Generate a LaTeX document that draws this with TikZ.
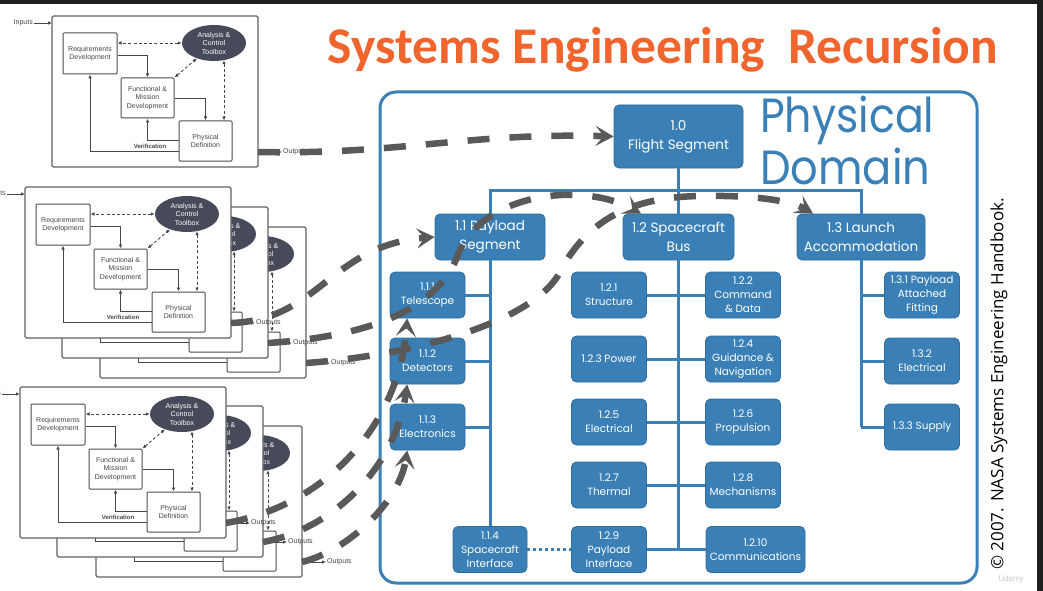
\documentclass[tikz,border=0pt]{standalone}
\usepackage{fontspec}
\usetikzlibrary{arrows.meta,calc,shapes.geometric}
\newfontfamily\titlefont{Carlito}
\newfontfamily\boxfont{Poppins}
\newfontfamily\loopfont{Liberation Sans}
\newfontfamily\notefont{Open Sans}
\definecolor{pdblue}{HTML}{3A80B6}
\definecolor{pdedge}{HTML}{2D6C9E}
\definecolor{recgray}{HTML}{595959}
\definecolor{toolgray}{HTML}{474B59}
\definecolor{orng}{HTML}{F0642D}
\newif\ifloopfront \loopfronttrue
\newcommand\looplabel[1]{\ifloopfront#1\fi}
\tikzset{
  looptxt/.style={font=\loopfont\fontsize{7}{8.5}\selectfont,text=black!72,inner sep=1pt,align=center},
  loopframe/.style={draw=black!62,fill=white,line width=1.1pt,rounded corners=1.5pt,minimum width=206pt,minimum height=151pt},
  loopbox/.style={looptxt,draw=black!70,fill=white,line width=1pt,rounded corners=1pt,minimum width=54pt,minimum height=41pt},
  toolbox/.style={looptxt,ellipse,fill=toolgray,text=white,minimum width=64pt,minimum height=36pt,inner sep=0pt},
  flow/.style={draw=black!72,line width=0.9pt,-{Latex[length=4pt,width=3.5pt]}},
  dashflow/.style={flow,dash pattern=on 3pt off 2.2pt,{Latex[length=4pt,width=3.5pt]}-{Latex[length=4pt,width=3.5pt]}},
  back/.code={\loopfrontfalse},
  pics/seloop/.style={code={
    \node[loopframe] (-fr) at (103,75.5) {};
    \node[looptxt,anchor=east] (-inl) at (-18,7) {\looplabel{Inputs}};
    \coordinate (-in) at (0,7);
    \draw[flow] (-inl.east) -- (-in);
    \node[loopbox] (-req) at (38,37.5) {\looplabel{Requirements\\Development}};
    \node[toolbox] (-tool) at (162,27) {Analysis \&\\Control\\Toolbox};
    \node[loopbox,minimum width=53pt,minimum height=40pt] (-func) at (95.5,82) {\looplabel{Functional \&\\Mission\\Development}};
    \node[loopbox,minimum width=53pt,minimum height=40pt] (-phys) at (153.5,125) {\looplabel{Physical\\Definition}};
    \draw[dashflow] (-tool.west) -- (-tool.west -| -req.east);
    \draw[flow] ([yshift=-1.5pt]-req.east) -| (-func.north);
    \draw[dashflow] (-func.north east) -- (-tool.222);
    \draw[flow] (-func.east) -| (-phys.north);
    \path ($(-tool.south)+(10,-1)$) coordinate (-tv);
    \draw[dashflow] (-tv) -- (-tv |- -phys.north);
    \draw[flow] ([yshift=1pt]-phys.west) -| (-func.south);
    \draw[flow] ([yshift=-10pt]-phys.west) -| (-req.south);
    \node[looptxt,font=\loopfont\bfseries\fontsize{6}{7}\selectfont] (-ver) at (98,130) {\looplabel{Verification}};
    \coordinate (-out) at (206,136);
    \node[looptxt,anchor=west] (-outl) at (230,136) {Outputs};
    \draw[flow] (-out) -- (-outl.west);
  }},
  bigbox/.style={draw=pdedge,fill=pdblue,line width=0.8pt,rounded corners=5pt,text=white,align=center,
    font=\boxfont\fontsize{13.5}{19}\selectfont,minimum height=46pt,inner sep=1pt},
  subbox/.style={bigbox,font=\boxfont\fontsize{10.5}{14}\selectfont,minimum width=75pt},
  tree/.style={pdblue,line width=3pt},
  recur/.style={recgray,line width=6.5pt,dash pattern=on 22pt off 20pt,-{Stealth[length=18pt,width=20pt,inset=8pt]}}
}
\begin{document}
\begin{tikzpicture}[x=1pt,y=-1pt]
\useasboundingbox (0,0) rectangle (1043,591);
\fill[white] (0,0) rectangle (1043,591);
\clip (0,0) rectangle (1043,591);

% left: the loop at three levels
\pic (t) at (52,16) {seloop};
\pic[back] (m3) at (100,227) {seloop};
\pic[back] (m2) at (62,207) {seloop};
\pic (m1) at (25,187) {seloop};
\pic[back] (b3) at (96,426) {seloop};
\pic[back] (b2) at (57,406) {seloop};
\pic (b1) at (20,387) {seloop};

\node[font=\titlefont\bfseries\fontsize{51.5}{60}\selectfont,text=orng] (title) at (663,50) {Systems Engineering\ \ Recursion};

% physical domain
\draw[pdblue,line width=3pt,rounded corners=16pt] (380,92) rectangle (977,583);
\node[font=\boxfont\fontsize{48}{52}\selectfont,text=pdblue,anchor=base west,inner sep=0pt] (phys) at (760,132) {\scalebox{0.89}[1]{Physical}};
\node[font=\boxfont\fontsize{48}{52}\selectfont,text=pdblue,anchor=base west,inner sep=0pt] (dom) at (760,184) {\scalebox{0.9}[1]{Domain}};

\node[bigbox,minimum width=129pt,minimum height=63pt] (n10) at (678.5,136.5) {1.0\\Flight Segment};
\node[bigbox,minimum width=110pt] (n11) at (490,237) {1.1 Payload\\Segment};
\node[bigbox,minimum width=111pt] (n12) at (678.5,237) {1.2 Spacecraft\\Bus};
\node[bigbox,minimum width=128pt] (n13) at (861,237) {1.3 Launch\\Accommodation};

\node[subbox] (n111) at (427.5,295) {1.1.1\\Telescope};
\node[subbox] (n112) at (427.5,361) {1.1.2\\Detectors};
\node[subbox] (n113) at (427.5,427) {1.1.3\\Electronics};
\node[subbox,minimum width=74pt] (n114) at (490,549.5) {1.1.4\\Spacecraft\\Interface};

\node[subbox] (n121) at (609,295) {1.2.1\\Structure};
\node[subbox] (n123) at (609,359) {1.2.3 Power};
\node[subbox] (n125) at (609,422) {1.2.5\\Electrical};
\node[subbox] (n127) at (609,485) {1.2.7\\Thermal};
\node[subbox] (n129) at (609,549.5) {1.2.9\\Payload\\Interface};
\node[subbox] (n122) at (743,295) {1.2.2\\Command\\\& Data};
\node[subbox] (n124) at (743,359) {1.2.4\\Guidance \&\\Navigation};
\node[subbox] (n126) at (743,422) {1.2.6\\Propulsion};
\node[subbox] (n128) at (743,485) {1.2.8\\Mechanisms};
\node[subbox,minimum width=99pt] (n1210) at (755.5,549.5) {1.2.10\\Communications};

\node[subbox] (n131) at (922,295) {1.3.1 Payload\\Attached\\Fitting};
\node[subbox] (n132) at (922,361) {1.3.2\\Electrical};
\node[subbox] (n133) at (922,427) {1.3.3 Supply};

% tree
\draw[tree] (n10.south) -- (n12.north);
\draw[tree] (n11.north) -- ++(0,-23) -| (n13.north);
\draw[tree] (n11.south) -- (n114.north);
\foreach \b in {n111,n112,n113} \draw[tree] (\b.east) -- (\b.east -| n11.south);
\draw[tree] (n12.south) -- (n12.south |- n129.east);
\foreach \b in {n121,n123,n125,n127,n129} \draw[tree] (\b.east) -- (\b.east -| n12.south);
\foreach \b in {n122,n124,n126,n128,n1210} \draw[tree] (\b.west) -- (\b.west -| n12.south);
\draw[tree] (n13.south) -- (n13.south |- n133.west);
\foreach \b in {n131,n132,n133} \draw[tree] (\b.west) -- (\b.west -| n13.south);
\draw[pdblue,line width=3pt,dash pattern=on 3pt off 3pt] (n114.east) -- (n129.west);

% recursion
\draw[recur] (t-out) .. controls (400,155) and (470,132) .. (n10.west);
\draw[recur] (m1-out) .. controls (320,320) and (330,245) .. (n11.west);
\draw[recur] (m2-out) .. controls (390,335) and (440,300) .. (458,255) .. controls (480,195) and (580,180) .. (n12.148);
\draw[recur] (m3-out) .. controls (420,355) and (535,320) .. (560,272) .. controls (590,214) and (640,197) .. (700,196) .. controls (750,195) and (790,200) .. (n13.154);
\draw[recur] (b1-out) .. controls (330,505) and (400,420) .. (n111.229);
\draw[recur] (b2-out) .. controls (330,530) and (395,470) .. (n112.229);
\draw[recur] (b3-out) .. controls (350,550) and (400,500) .. (n113.229);

\node[rotate=90,font=\notefont\fontsize{17}{20}\selectfont] (copy) at (999,384) {© 2007. NASA Systems Engineering Handbook.};
\node[font=\loopfont\fontsize{8}{8}\selectfont,text=black!22] (udemy) at (1011,579) {Udemy};
\fill[black!88] (0,0) rectangle (1043,4);
\fill[black!88] (1037,0) rectangle (1043,591);
\end{tikzpicture}
\end{document}
